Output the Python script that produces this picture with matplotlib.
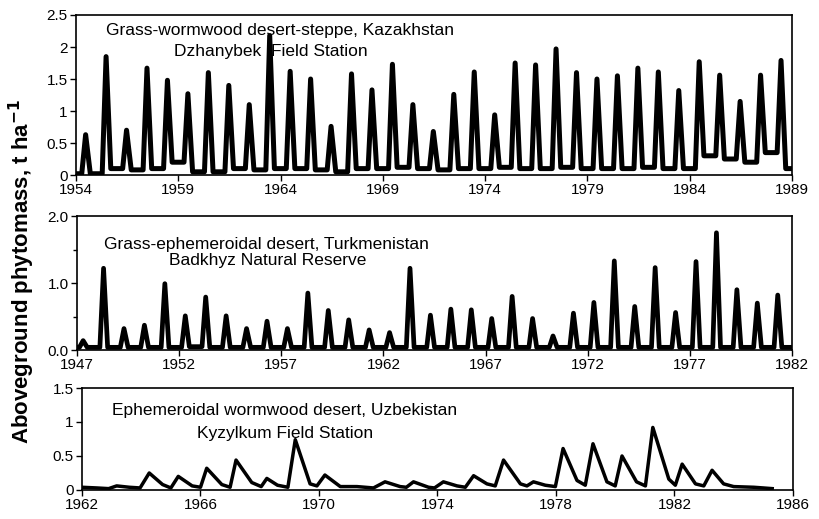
import matplotlib.pyplot as plt
from matplotlib.ticker import MultipleLocator

plt.rcParams['font.family'] = ['Liberation Sans', 'DejaVu Sans']

# --- Dzhanybek (Kazakhstan): seasonal peak and post-season level per year ---
dz_years = list(range(1954, 1989))
dz_peak = [0.63, 1.85, 0.70, 1.67, 1.48, 1.27, 1.60, 1.40, 1.10, 2.18,
           1.62, 1.50, 0.76, 1.58, 1.33, 1.73, 1.10, 0.68, 1.26, 1.61,
           0.94, 1.75, 1.72, 1.97, 1.60, 1.50, 1.55, 1.67, 1.61, 1.32,
           1.77, 1.56, 1.15, 1.56, 1.79]
dz_base = [0.02, 0.10, 0.08, 0.10, 0.20, 0.05, 0.05, 0.10, 0.08, 0.10,
           0.10, 0.08, 0.05, 0.10, 0.10, 0.12, 0.10, 0.08, 0.10, 0.10,
           0.12, 0.10, 0.10, 0.12, 0.10, 0.10, 0.10, 0.12, 0.10, 0.10,
           0.30, 0.25, 0.20, 0.35, 0.10]

# --- Badkhyz (Turkmenistan) ---
bd_years = list(range(1947, 1982))
bd_peak = [0.14, 1.22, 0.32, 0.37, 0.99, 0.51, 0.79, 0.51, 0.32, 0.43,
           0.32, 0.85, 0.59, 0.45, 0.30, 0.26, 1.22, 0.52, 0.61, 0.60,
           0.47, 0.80, 0.47, 0.21, 0.55, 0.71, 1.33, 0.65, 1.23, 0.56,
           1.32, 1.75, 0.90, 0.70, 0.82]
bd_base = [0.04, 0.04, 0.04, 0.04, 0.04, 0.05, 0.04, 0.04, 0.04, 0.04,
           0.04, 0.04, 0.04, 0.04, 0.04, 0.04, 0.04, 0.04, 0.04, 0.04,
           0.04, 0.04, 0.04, 0.04, 0.04, 0.04, 0.04, 0.04, 0.04, 0.04,
           0.04, 0.04, 0.04, 0.04, 0.04]

# --- Kyzylkum (Uzbekistan): sampled points ---
kz_time = [1962.0, 1962.5, 1962.9, 1963.17, 1963.6, 1963.96, 1964.27, 1964.72,
           1965.0, 1965.25, 1965.72, 1966.0, 1966.21, 1966.72, 1967.0, 1967.2,
           1967.73, 1968.05, 1968.24, 1968.6, 1968.95, 1969.2, 1969.7, 1969.93,
           1970.2, 1970.72, 1971.28, 1971.84, 1972.23, 1972.74, 1972.95, 1973.19,
           1973.7, 1973.9, 1974.2, 1974.66, 1974.94, 1975.22, 1975.67, 1975.95,
           1976.23, 1976.8, 1977.02, 1977.24, 1977.64, 1977.98, 1978.24, 1978.71,
           1978.99, 1979.25, 1979.72, 1980.0, 1980.23, 1980.72, 1981.02, 1981.27,
           1981.81, 1982.03, 1982.26, 1982.71, 1982.99, 1983.27, 1983.66, 1984.0,
           1984.68, 1985.0, 1985.3]
kz_value = [0.04, 0.03, 0.02, 0.06, 0.04, 0.03, 0.25, 0.08,
            0.03, 0.20, 0.06, 0.04, 0.32, 0.08, 0.04, 0.44,
            0.11, 0.05, 0.17, 0.07, 0.04, 0.74, 0.09, 0.06,
            0.22, 0.05, 0.05, 0.03, 0.12, 0.05, 0.04, 0.12,
            0.04, 0.03, 0.12, 0.06, 0.04, 0.21, 0.09, 0.06,
            0.44, 0.09, 0.06, 0.12, 0.07, 0.05, 0.61, 0.14,
            0.07, 0.68, 0.12, 0.06, 0.50, 0.12, 0.06, 0.92,
            0.16, 0.07, 0.38, 0.09, 0.06, 0.29, 0.09, 0.05,
            0.04, 0.03, 0.02]


def seasonal(years, peak, base, start, rise, top, fall, end):
    # expand per-year peaks into a polyline: flat base -> peak -> base
    t, v = [years[0]], [start]
    prev = start
    for y, p, b in zip(years, peak, base):
        t += [y + rise, y + top, y + fall]
        v += [prev, p, b]
        prev = b
    t.append(end)
    v.append(prev)
    return t, v


fig = plt.figure(figsize=(8.2, 5.19), dpi=100)
ax1 = fig.add_axes([0.0927, 0.6628, 0.873, 0.3083])
ax2 = fig.add_axes([0.0939, 0.3256, 0.872, 0.2582])
ax3 = fig.add_axes([0.1000, 0.0559, 0.867, 0.1965])

t1, v1 = seasonal(dz_years, dz_peak, dz_base, 0.02, 0.28, 0.47, 0.70, 1989)
t2, v2 = seasonal(bd_years, bd_peak, bd_base, 0.04, 0.12, 0.30, 0.50, 1982)

ax1.plot(t1, v1, color='black', lw=3.6, solid_joinstyle='round')
ax2.plot(t2, v2, color='black', lw=3.4, solid_joinstyle='round')
ax3.plot(kz_time, kz_value, color='black', lw=2.5, solid_joinstyle='round')

ax1.set_xlim(1954, 1989)
ax1.set_ylim(0, 2.5)
ax1.set_xticks(range(1954, 1990, 5))
ax1.set_yticks([0, 0.5, 1, 1.5, 2, 2.5])
ax1.set_yticklabels(['0', '0.5', '1', '1.5', '2', '2.5'])

ax2.set_xlim(1947, 1982)
ax2.set_ylim(0, 2.0)
ax2.set_xticks(range(1947, 1983, 5))
ax2.set_yticks([0, 1, 2])
ax2.set_yticklabels(['0.0', '1.0', '2.0'])
ax2.yaxis.set_minor_locator(MultipleLocator(0.5))

ax3.set_xlim(1962, 1986)
ax3.set_ylim(0, 1.5)
ax3.set_xticks(range(1962, 1987, 4))
ax3.set_yticks([0, 0.5, 1, 1.5])
ax3.set_yticklabels(['0', '0.5', '1', '1.5'])

for ax in (ax1, ax2, ax3):
    for s in ax.spines.values():
        s.set_linewidth(1.2)
    ax.tick_params(direction='out', length=4, width=1, labelsize=11, pad=2)
    ax.tick_params(which='minor', direction='out', length=3, width=1)

tkw = dict(ha='center', va='center', fontsize=12.5)
ax1.text(0.285, 0.90, 'Grass-wormwood desert-steppe, Kazakhstan', transform=ax1.transAxes, **tkw)
ax1.text(0.272, 0.77, 'Dzhanybek  Field Station', transform=ax1.transAxes, **tkw)
ax2.text(0.265, 0.79, 'Grass-ephemeroidal desert, Turkmenistan', transform=ax2.transAxes, **tkw)
ax2.text(0.267, 0.67, 'Badkhyz Natural Reserve', transform=ax2.transAxes, **tkw)
ax3.text(0.285, 0.78, 'Ephemeroidal wormwood desert, Uzbekistan', transform=ax3.transAxes, **tkw)
ax3.text(0.285, 0.55, 'Kyzylkum Field Station', transform=ax3.transAxes, **tkw)

fig.text(0.027, 0.476, 'Aboveground phytomass, t ha$^{\\mathbf{-1}}$', rotation=90,
         ha='center', va='center', fontsize=16, fontweight='bold')

fig.savefig('out.png', dpi=100)
